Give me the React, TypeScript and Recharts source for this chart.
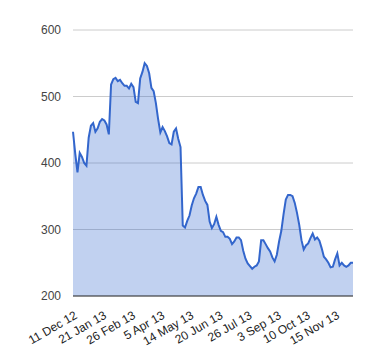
import React from 'react';
import { AreaChart, Area, XAxis, YAxis, CartesianGrid } from 'recharts';

// one point every couple of trading days, 11 Dec 2012 -> early Dec 2013
const prices = [
  447, 414, 386, 415, 409, 400, 396, 438, 456, 460, 447, 452, 462,
  466, 464, 458, 443, 518, 526, 528, 523, 525, 520, 516, 516, 512,
  519, 514, 492, 490, 527, 537, 550, 546, 535, 513, 508, 490, 466,
  446, 454, 448, 440, 430, 428, 447, 452, 436, 424, 306, 303, 313,
  321, 336, 347, 354, 364, 364, 352, 343, 337, 312, 302, 308, 319,
  307, 298, 296, 289, 289, 286, 278, 282, 288, 288, 284, 268, 256,
  249, 245, 241, 244, 246, 252, 284, 284, 278, 272, 267, 258, 252,
  262, 282, 298, 323, 345, 352, 352, 350, 340, 325, 307, 284, 270,
  276, 279, 287, 294, 285, 288, 283, 272, 259, 255, 250, 243, 244,
  255, 264, 246, 250, 246, 244, 246, 250, 250,
];

const tickLabels = [
  '11 Dec 12', '21 Jan 13', '26 Feb 13', '5 Apr 13', '14 May 13',
  '20 Jun 13', '26 Jul 13', '3 Sep 13', '10 Oct 13', '15 Nov 13',
];
const tickIndex = [0, 13, 26, 39, 52, 65, 78, 91, 104, 117];

const yTicks = [200, 300, 400, 500, 600];

const data = prices.map((v, i) => ({ i, v }));

const DateTick = (props: any) => {
  const { x, y, payload } = props;
  const label = tickLabels[tickIndex.indexOf(payload.value)];
  return (
    <g transform={`translate(${x + 3},${y + 10})`}>
      <text
        textAnchor="end"
        transform="rotate(-30)"
        dy="0.35em"
        fontSize={12}
        fill="#222"
        fontFamily="Arial, 'Liberation Sans', sans-serif"
      >
        {label}
      </text>
    </g>
  );
};

export default function App() {
  return (
    <div style={{ position: 'absolute', left: 0, top: 0, background: '#fff' }}>
      <AreaChart
        width={380}
        height={360}
        data={data}
        margin={{ top: 30, right: 27, left: 33, bottom: 14 }}
      >
        <CartesianGrid vertical={false} stroke="#cccccc" />
        <XAxis
          dataKey="i"
          type="number"
          domain={[0, prices.length - 1]}
          ticks={tickIndex}
          tick={<DateTick />}
          tickLine={false}
          axisLine={{ stroke: '#333' }}
          height={50}
          interval={0}
        />
        <YAxis
          domain={[200, 600]}
          ticks={yTicks}
          width={40}
          axisLine={false}
          tickLine={false}
          tickMargin={6}
          tick={{ fontSize: 12, fill: '#444', fontFamily: "Arial, 'Liberation Sans', sans-serif" }}
        />
        <Area
          type="linear"
          dataKey="v"
          stroke="#3366cc"
          strokeWidth={2}
          fill="#3366cc"
          fillOpacity={0.3}
          dot={false}
          activeDot={false}
          isAnimationActive={false}
        />
      </AreaChart>
    </div>
  );
}
